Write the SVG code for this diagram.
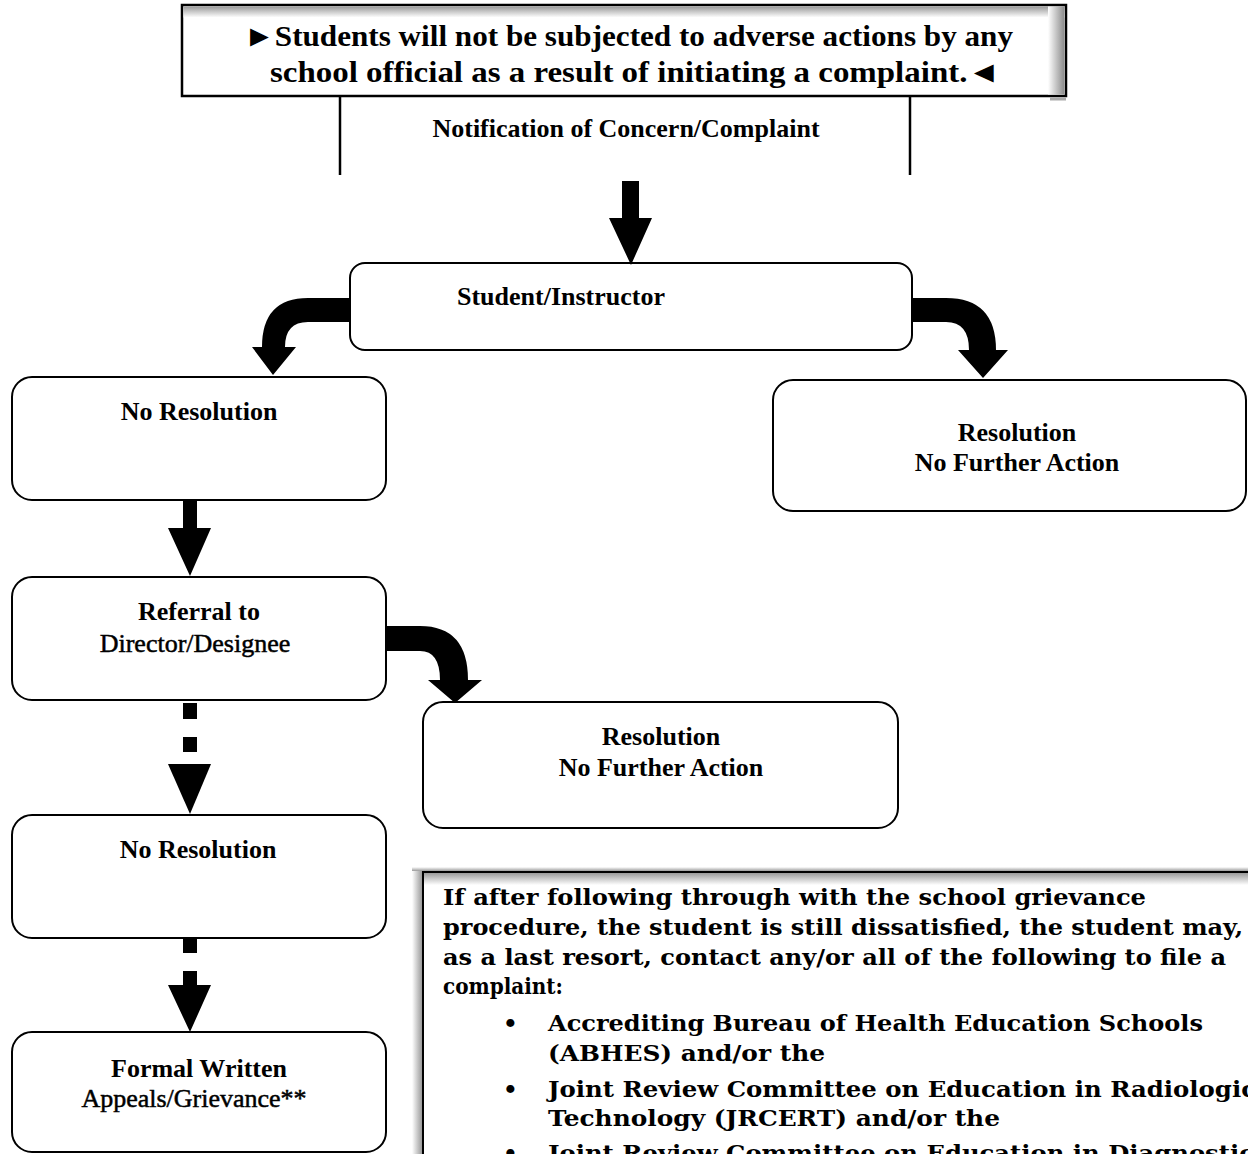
<svg xmlns="http://www.w3.org/2000/svg" width="1248" height="1154" viewBox="0 0 1248 1154">
<defs>
<linearGradient id="gTop" x1="0" y1="0" x2="0" y2="1"><stop offset="0" stop-color="#9a9a9a"/><stop offset="1" stop-color="#ffffff"/></linearGradient>
<linearGradient id="gRight" x1="0" y1="0" x2="1" y2="0"><stop offset="0" stop-color="#ffffff"/><stop offset="1" stop-color="#8a8a8a"/></linearGradient>
<linearGradient id="gLeftOut" x1="0" y1="0" x2="1" y2="0"><stop offset="0" stop-color="#ffffff"/><stop offset="1" stop-color="#9a9a9a"/></linearGradient>
<linearGradient id="gTopOut" x1="0" y1="0" x2="0" y2="1"><stop offset="0" stop-color="#ffffff"/><stop offset="1" stop-color="#9a9a9a"/></linearGradient>
</defs>
<style>
.box{fill:#fff;stroke:#000;stroke-width:2}
.lbl{font-family:"Liberation Serif","Times New Roman",serif;font-weight:bold;font-size:26px;fill:#000;text-anchor:middle}
.reg{font-weight:normal;stroke:#000;stroke-width:0.5}
.ban{font-family:"Liberation Serif","DejaVu Serif",serif;font-weight:bold;font-size:30px;fill:#000}
.note{font-family:"DejaVu Serif",serif;font-weight:bold;font-size:23px;fill:#000}
.arr{fill:#000;stroke:none}
</style>
<rect width="1248" height="1154" fill="#fff"/>

<g id="banner">
<rect x="182" y="5" width="884" height="91" fill="#fff" stroke="#000" stroke-width="2.5"/>
<rect x="183.5" y="6.5" width="881" height="11" fill="url(#gTop)"/>
<rect x="1048" y="6.5" width="16.5" height="88" fill="url(#gRight)"/>
<rect x="1050" y="97.5" width="16" height="3" fill="#aaa"/>
<text class="ban" x="244" y="46" textLength="769" lengthAdjust="spacingAndGlyphs">►Students will not be subjected to adverse actions by any</text>
<text class="ban" x="270" y="82" textLength="730" lengthAdjust="spacingAndGlyphs">school official as a result of initiating a complaint.◄</text>
</g>

<g id="notification">
<line x1="340" y1="97" x2="340" y2="175" stroke="#000" stroke-width="2.5"/>
<line x1="910" y1="97" x2="910" y2="175" stroke="#000" stroke-width="2.5"/>
<text class="lbl" x="626" y="137">Notification of Concern/Complaint</text>
</g>

<g id="student">
<rect class="box" x="350" y="263" width="562" height="87" rx="15"/>
<text class="lbl" x="561" y="305">Student/Instructor</text>
</g>

<g id="noresolution1">
<rect class="box" x="12" y="377" width="374" height="123" rx="20"/>
<text class="lbl" x="199" y="420">No Resolution</text>
</g>

<g id="resolution1">
<rect class="box" x="773" y="380" width="473" height="131" rx="20"/>
<text class="lbl" x="1017" y="441">Resolution</text>
<text class="lbl" x="1017" y="471">No Further Action</text>
</g>

<g id="referral">
<rect class="box" x="12" y="577" width="374" height="123" rx="20"/>
<text class="lbl" x="199" y="620">Referral to</text>
<text class="lbl reg" x="195" y="652">Director/Designee</text>
</g>

<g id="resolution2">
<rect class="box" x="423" y="702" width="475" height="126" rx="20"/>
<text class="lbl" x="661" y="745">Resolution</text>
<text class="lbl" x="661" y="776">No Further Action</text>
</g>

<g id="noresolution2">
<rect class="box" x="12" y="815" width="374" height="123" rx="20"/>
<text class="lbl" x="198" y="858">No Resolution</text>
</g>

<g id="formal">
<rect class="box" x="12" y="1032" width="374" height="120" rx="20"/>
<text class="lbl" x="199" y="1077">Formal Written</text>
<text class="lbl reg" x="194" y="1107">Appeals/Grievance**</text>
</g>

<g id="complaint-note">
<rect x="412" y="870" width="10" height="284" fill="url(#gLeftOut)"/>
<rect x="412" y="867" width="836" height="4" fill="url(#gTopOut)"/>
<rect x="423" y="873" width="825" height="12" fill="url(#gTop)"/>
<line x1="422" y1="872" x2="1248" y2="872" stroke="#000" stroke-width="2"/>
<line x1="423" y1="872" x2="423" y2="1154" stroke="#000" stroke-width="2"/>
<text class="note" x="443" y="905" textLength="703" lengthAdjust="spacingAndGlyphs">If after following through with the school grievance</text>
<text class="note" x="443" y="935" textLength="800" lengthAdjust="spacingAndGlyphs">procedure, the student is still dissatisfied, the student may,</text>
<text class="note" x="443" y="965" textLength="783" lengthAdjust="spacingAndGlyphs">as a last resort, contact any/or all of the following to file a</text>
<text class="note" x="443" y="994" textLength="120" lengthAdjust="spacingAndGlyphs">complaint:</text>
<text class="note" x="503" y="1031">•</text>
<text class="note" x="548" y="1031" textLength="655" lengthAdjust="spacingAndGlyphs">Accrediting Bureau of Health Education Schools</text>
<text class="note" x="548" y="1061" textLength="277" lengthAdjust="spacingAndGlyphs">(ABHES) and/or the</text>
<text class="note" x="503" y="1097">•</text>
<text class="note" x="548" y="1097" textLength="708" lengthAdjust="spacingAndGlyphs">Joint Review Committee on Education in Radiologic</text>
<text class="note" x="548" y="1126" textLength="452" lengthAdjust="spacingAndGlyphs">Technology (JRCERT) and/or the</text>
<text class="note" x="503" y="1161">•</text>
<text class="note" x="548" y="1161" textLength="706" lengthAdjust="spacingAndGlyphs">Joint Review Committee on Education in Diagnostic</text>
</g>

<g id="connectors">
<path class="arr" d="M622 181 H639 V218 H652 L631 265 L609 218 H622 Z"/>
<path class="arr" d="M350 298 H308 Q262 298 262 347 H252 L273 375 L296 347 H285 Q285 322 308 322 H350 Z"/>
<path class="arr" d="M912 298 H946 Q996 298 996 350 H1008 L983 378 L958 350 H969 Q969 322 946 322 H912 Z"/>
<path class="arr" d="M183 501 H197 V528 H211 L190 576 L168 528 H183 Z"/>
<path class="arr" d="M386 626 H420 Q468 626 468 680 H482 L455 703 L428 680 H440 Q440 651 420 651 H386 Z"/>
<rect class="arr" x="183" y="703" width="14" height="16"/>
<rect class="arr" x="183" y="737" width="14" height="15"/>
<path class="arr" d="M168 764 H211 L190 814 Z"/>
<rect class="arr" x="183" y="939" width="14" height="14"/>
<path class="arr" d="M183 971 H197 V985 H211 L190 1032 L168 985 H183 Z"/>
</g>
</svg>
